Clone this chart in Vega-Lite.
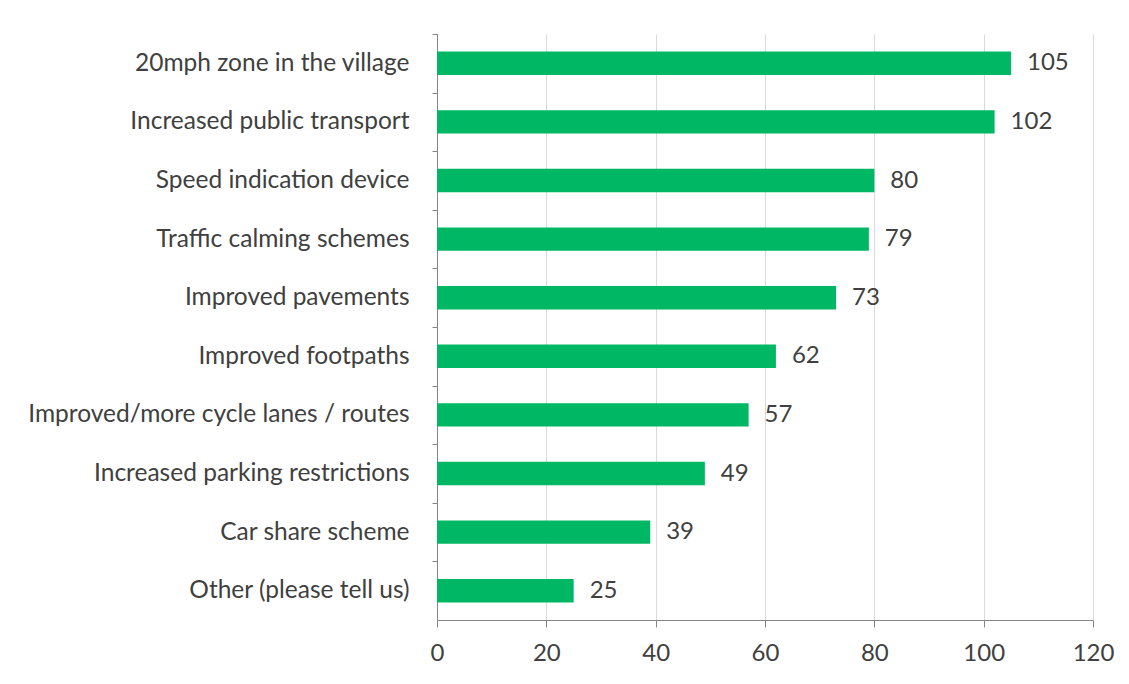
{
  "$schema": "https://vega.github.io/schema/vega-lite/v6.json",
  "width": 656,
  "height": 586,
  "autosize": {"type": "none"},
  "padding": {"left": 437, "top": 34, "right": 36, "bottom": 64},
  "background": "white",
  "data": {
    "values": [
      {"category": "20mph zone in the village", "count": 105},
      {"category": "Increased public transport", "count": 102},
      {"category": "Speed indication device", "count": 80},
      {"category": "Traffic calming schemes", "count": 79},
      {"category": "Improved pavements", "count": 73},
      {"category": "Improved footpaths", "count": 62},
      {"category": "Improved/more cycle lanes / routes", "count": 57},
      {"category": "Increased parking restrictions", "count": 49},
      {"category": "Car share scheme", "count": 39},
      {"category": "Other (please tell us)", "count": 25}
    ]
  },
  "encoding": {
    "y": {
      "field": "category",
      "type": "nominal",
      "sort": null,
      "scale": {"paddingInner": 0.6, "paddingOuter": 0.3},
      "axis": {
        "title": null,
        "domainColor": "#868686",
        "tickColor": "#868686",
        "tickSize": 5,
        "tickOffset": -29.3,
        "labelOffset": 29.3,
        "labelFontSize": 24.5,
        "labelFont": "Lato",
        "labelColor": "#404040",
        "labelPadding": 23,
        "labelLimit": 430,
        "grid": false
      }
    },
    "x": {
      "field": "count",
      "type": "quantitative",
      "scale": {"domain": [0, 120], "nice": false},
      "axis": {
        "title": null,
        "values": [0, 20, 40, 60, 80, 100, 120],
        "labelFlush": false,
        "domainColor": "#868686",
        "tickColor": "#868686",
        "tickSize": 7,
        "gridColor": "#d9d9d9",
        "labelFontSize": 24,
        "labelFont": "Lato",
        "labelColor": "#404040",
        "labelPadding": 14
      }
    }
  },
  "layer": [
    {"mark": {"type": "bar", "color": "#00b863"}},
    {
      "mark": {"type": "text", "align": "left", "baseline": "middle", "dx": 16, "fontSize": 24, "font": "Lato", "color": "#404040"},
      "encoding": {"text": {"field": "count", "type": "quantitative"}}
    }
  ],
  "config": {"view": {"stroke": null}}
}
